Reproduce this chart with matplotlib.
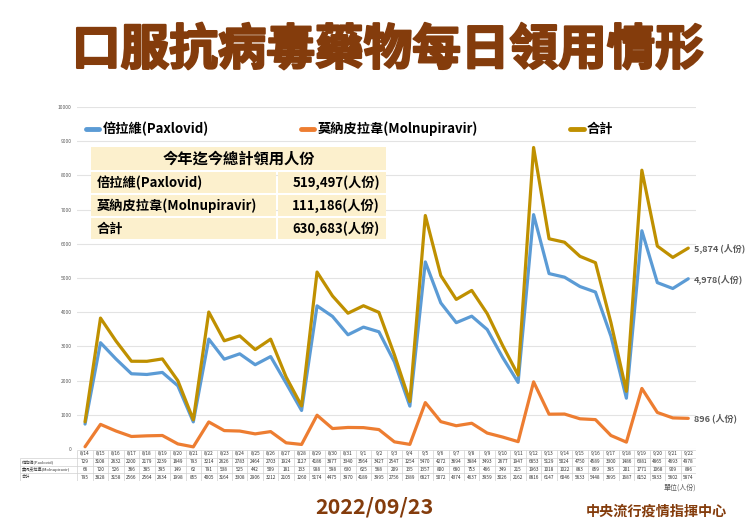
import matplotlib
matplotlib.use('Agg')
import matplotlib.pyplot as plt
import matplotlib.patheffects as pe
from matplotlib.patches import Rectangle
import numpy as np

plt.rcParams['font.family'] = ['Noto Sans CJK TC', 'DejaVu Sans']

# ---- data ----
dates = ['8/14', '8/15', '8/16', '8/17', '8/18', '8/19', '8/20', '8/21', '8/22', '8/23',
         '8/24', '8/25', '8/26', '8/27', '8/28', '8/29', '8/30', '8/31', '9/1', '9/2',
         '9/3', '9/4', '9/5', '9/6', '9/7', '9/8', '9/9', '9/10', '9/11', '9/12',
         '9/13', '9/14', '9/15', '9/16', '9/17', '9/18', '9/19', '9/20', '9/21', '9/22']
paxlovid = [729, 3108, 2632, 2200, 2179, 2239, 1849, 793, 3214, 2626,
            2783, 2464, 2703, 1924, 1127, 4186, 3877, 3340, 3564, 3427,
            2547, 1254, 5470, 4272, 3694, 3884, 3493, 2677, 1947, 6853,
            5129, 5024, 4750, 4589, 3300, 1486, 6381, 4865, 4693, 4978]
molnupiravir = [66, 720, 526, 366, 385, 395, 149, 62, 791, 538,
                525, 442, 509, 181, 133, 988, 598, 630, 625, 568,
                209, 135, 1357, 800, 680, 753, 466, 349, 215, 1963,
                1018, 1022, 883, 859, 395, 201, 1771, 1068, 909, 896]
total = [795, 3828, 3158, 2566, 2564, 2634, 1998, 855, 4005, 3164,
         3308, 2906, 3212, 2105, 1260, 5174, 4475, 3970, 4189, 3995,
         2756, 1389, 6827, 5072, 4374, 4637, 3959, 3026, 2162, 8816,
         6147, 6046, 5633, 5448, 3695, 1687, 8152, 5933, 5602, 5874]

series_names = ['倍拉維(Paxlovid)', '莫納皮拉韋(Molnupiravir)', '合計']
end_labels = ['4,978(人份)', '896 (人份)', '5,874 (人份)']
colors = ['#5B9BD5', '#ED7D31', '#BF9000']

summary_title = '今年迄今總計領用人份'
summary_labels = ['倍拉維(Paxlovid)', '莫納皮拉韋(Molnupiravir)', '合計']
summary_values = [519497, 111186, 630683]

brown = '#843C0C'
W, H = 750, 531


def px(x0, y0, x1, y1):
    # pixel box -> figure fraction rect
    return [x0 / W, 1 - y1 / H, (x1 - x0) / W, (y1 - y0) / H]


fig = plt.figure(figsize=(7.5, 5.31), dpi=100)
fig.patch.set_facecolor('white')

# heavy title: bold face plus a thin stroke in the same colour
fig.text(388 / W, 1 - 50 / H, '口服抗病毒藥物每日領用情形', ha='center', va='center',
         fontsize=35, weight='bold', color=brown,
         path_effects=[pe.withStroke(linewidth=1.6, foreground=brown)])

# ---- main chart ----
ax = fig.add_axes(px(77.3, 107, 696, 449))
x = np.arange(len(dates))
lines = []
for vals, name, c, lab in zip([paxlovid, molnupiravir, total], series_names, colors, end_labels):
    l, = ax.plot(x, vals, color=c, lw=2.3, label=name,
                 solid_joinstyle='round', solid_capstyle='round')
    lines.append(l)
    ax.annotate(lab, (x[-1], vals[-1]), xytext=(4, 0), textcoords='offset points',
                va='center', ha='left', fontsize=6.5, weight='bold', color='#595959',
                annotation_clip=False)

ax.set_xlim(-0.5, len(dates) - 0.5)
ax.set_ylim(0, 10000)
ax.set_yticks(np.arange(0, 10001, 1000))
ax.set_xticks([])
ax.tick_params(axis='y', labelsize=3.5, length=0, pad=4, labelcolor='#595959')
ax.grid(axis='y', color='#E3E3E3', lw=0.8)
ax.set_axisbelow(True)
for s in ax.spines.values():
    s.set_visible(False)

leg = fig.legend(handles=lines, ncol=3, loc='center left',
                 bbox_to_anchor=(86 / W, 1 - 129 / H), frameon=False,
                 fontsize=9.5, handlelength=1.0, handletextpad=0.25,
                 columnspacing=7.0, borderpad=0, borderaxespad=0)
for h in leg.get_lines():
    h.set_linewidth(3.5)
for t in leg.get_texts():
    t.set_fontweight('bold')

# ---- summary box ----
bx = fig.add_axes(px(91, 147, 386, 239))
bx.set_xlim(0, 295)
bx.set_ylim(92, 0)
bx.axis('off')
cream = '#FCF0CD'
bx.add_patch(Rectangle((0, 0), 295, 23, color=cream, lw=0))
bx.text(147.5, 11.5, summary_title, ha='center', va='center', fontsize=11, weight='bold')
for i, (lab, val) in enumerate(zip(summary_labels, summary_values)):
    y0 = 25 + i * 23
    bx.add_patch(Rectangle((0, y0), 185, 21, color=cream, lw=0))
    bx.add_patch(Rectangle((187, y0), 108, 21, color=cream, lw=0))
    bx.text(6, y0 + 10.5, lab, ha='left', va='center', fontsize=9.5, weight='bold')
    bx.text(289, y0 + 10.5, f'{val:,}(人份)', ha='right', va='center', fontsize=9.5, weight='bold')

# ---- data table under the chart ----
tx = fig.add_axes(px(20, 450, 696, 481))
left = -0.5 - (77.3 - 20) / 15.47
n = len(dates)
tx.set_xlim(left, n - 0.5)
tx.set_ylim(4, 0)
tx.axis('off')
rows = [('', dates), (series_names[0], paxlovid), (series_names[1], molnupiravir), (series_names[2], total)]
for r, (lab, vals) in enumerate(rows):
    tx.text(left + 0.15, r + 0.5, lab, fontsize=3.0, va='center', ha='left', color='#333333')
    for i, v in enumerate(vals):
        tx.text(i, r + 0.5, str(v), fontsize=3.4, ha='center', va='center', color='#333333')
tx.hlines([0], -0.5, n - 0.5, color='#D0D0D0', lw=0.5)
tx.hlines([1, 2, 3, 4], left, n - 0.5, color='#D0D0D0', lw=0.5)
tx.vlines(np.arange(n + 1) - 0.5, 0, 4, color='#D0D0D0', lw=0.5)
tx.vlines([left], 1, 4, color='#D0D0D0', lw=0.5)

fig.text(680 / W, 1 - 488 / H, '單位(人份)', ha='center', va='center', fontsize=5, color='#595959')
fig.text(374 / W, 1 - 507 / H, '2022/09/23', ha='center', va='center',
         fontsize=15.5, weight='bold', color=brown)
fig.text(656 / W, 1 - 512 / H, '中央流行疫情指揮中心', ha='center', va='center',
         fontsize=10.2, weight='bold', color=brown)

fig.savefig('out.png', dpi=100)
